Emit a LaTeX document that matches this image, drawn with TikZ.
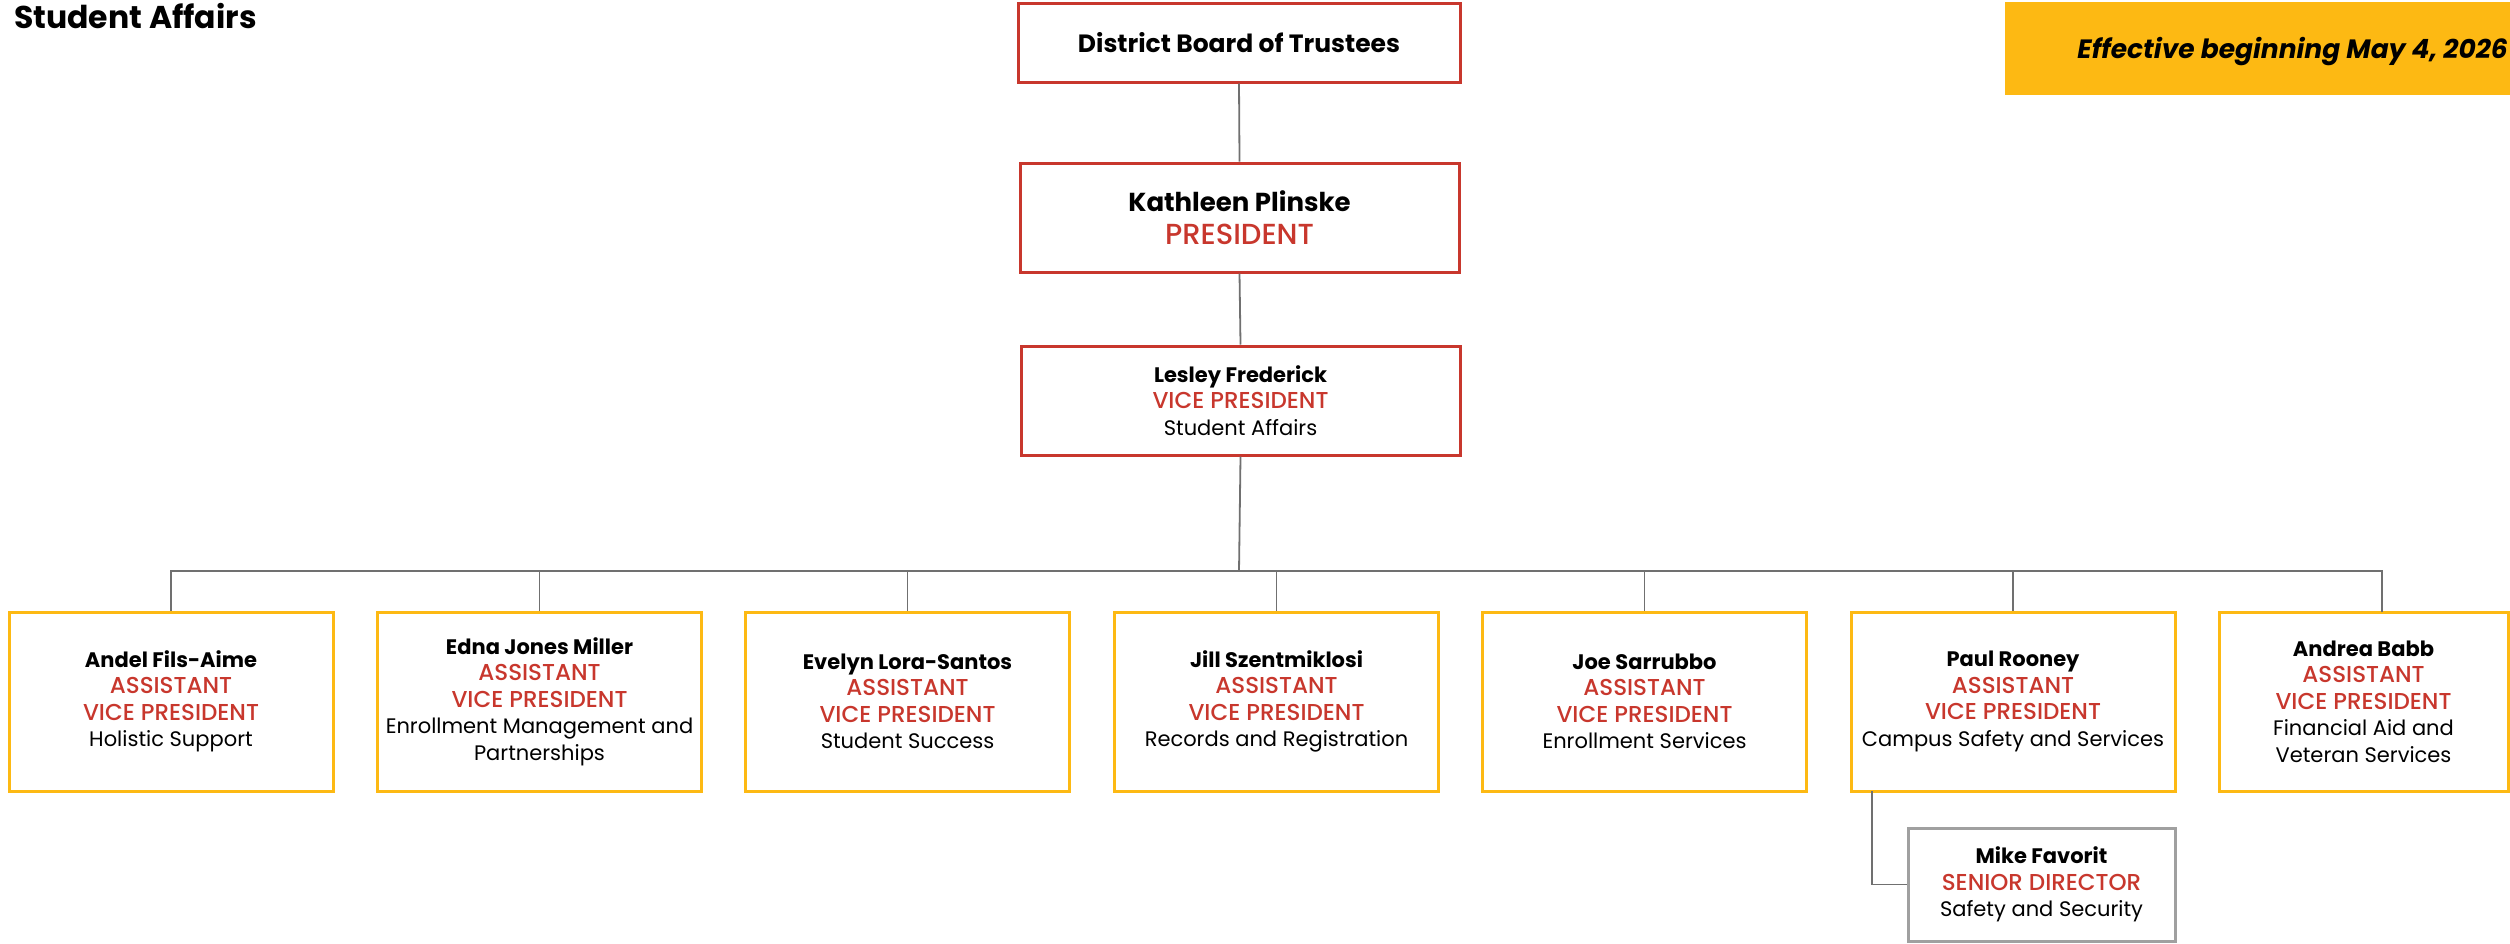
\documentclass[tikz,border=0pt]{standalone}
\usepackage{fontspec}
\setmainfont{Poppins}
\newfontfamily\medfont{Poppins Medium}
\definecolor{bred}{HTML}{C8372D}
\definecolor{byel}{HTML}{FDB913}
\definecolor{lgray}{HTML}{707070}
\definecolor{mgray}{HTML}{A0A0A0}
\tikzset{
  box/.style={draw, line width=3pt, align=center, inner sep=0pt, fill=white,
    font=\fontsize{21}{26.5}\selectfont},
  redbox/.style={box, draw=bred},
  yelbox/.style={box, draw=byel, minimum width=324pt, minimum height=179pt},
  graybox/.style={box, draw=mgray},
  conn/.style={draw=lgray, line width=1.8pt},
}
\newcommand{\rt}[1]{{\medfont\fontsize{23}{26.5}\selectfont\color{bred}#1}}
\begin{document}
\begin{tikzpicture}[x=1pt,y=-1pt]
\useasboundingbox (0,0) rectangle (2510,943);
% title
\node[anchor=base west, inner sep=0pt, font=\fontsize{31.5}{32}\selectfont\bfseries] (title) at (14,28) {Student Affairs};
% effective banner
\fill[byel] (2005,2) rectangle (2515,95);
\node[anchor=base east, inner sep=0pt, font=\fontsize{26.5}{27}\selectfont\bfseries\itshape] (eff) at (2508,58) {Effective beginning May 4, 2026};
% connectors
\coordinate (bus) at (1239,571);
\coordinate (b7top) at (2382,612);
\coordinate (b6foot) at (1872,791);
% top
\node[redbox, minimum width=442pt, minimum height=79pt, font=\fontsize{25}{30}\selectfont\bfseries] (board) at (1239,42.5) {District Board of Trustees};
\node[redbox, minimum width=439pt, minimum height=109pt, font=\fontsize{26}{33}\selectfont] (kp) at (1239.5,217.5) {\textbf{Kathleen Plinske}\\{\medfont\fontsize{29}{33}\selectfont\color{bred}PRESIDENT}};
\node[redbox, minimum width=439pt, minimum height=109pt] (lf) at (1240.5,400.5) {\textbf{Lesley Frederick}\\\rt{VICE PRESIDENT}\\Student Affairs};
% bottom row
\node[yelbox] (b1) at (171,701.5) {\textbf{Andel Fils-Aime}\\\rt{ASSISTANT}\\\rt{VICE PRESIDENT}\\Holistic Support};
\node[yelbox] (b2) at (539.5,701.5) {\textbf{Edna Jones Miller}\\\rt{ASSISTANT}\\\rt{VICE PRESIDENT}\\Enrollment Management and\\Partnerships};
\node[yelbox] (b3) at (907.5,701.5) {\textbf{Evelyn Lora-Santos}\\\rt{ASSISTANT}\\\rt{VICE PRESIDENT}\\Student Success};
\node[yelbox] (b4) at (1276.5,701.5) {\textbf{Jill Szentmiklosi}\\\rt{ASSISTANT}\\\rt{VICE PRESIDENT}\\Records and Registration};
\node[yelbox] (b5) at (1644.5,701.5) {\textbf{Joe Sarrubbo}\\\rt{ASSISTANT}\\\rt{VICE PRESIDENT}\\Enrollment Services};
\node[yelbox] (b6) at (2013,701.5) {\textbf{Paul Rooney}\\\rt{ASSISTANT}\\\rt{VICE PRESIDENT}\\Campus Safety and Services};
\node[yelbox, minimum width=289pt] (b7) at (2363.5,701.5) {\textbf{Andrea Babb}\\\rt{ASSISTANT}\\\rt{VICE PRESIDENT}\\Financial Aid and\\Veteran Services};
\node[graybox, minimum width=267pt, minimum height=113pt] (mf) at (2041.5,884.5) {\textbf{Mike Favorit}\\\rt{SENIOR DIRECTOR}\\Safety and Security};
\draw[conn] (board.south) -- (kp.north);
\draw[conn] (kp.south) -- (lf.north);
\draw[conn] (lf.south) -- (bus);
\draw[conn] (b1.north) |- (bus);
\draw[conn] (b2.north) |- (bus);
\draw[conn] (b3.north) |- (bus);
\draw[conn] (b4.north) |- (bus);
\draw[conn] (b5.north) |- (bus);
\draw[conn] (b6.north) |- (bus);
\draw[conn] (b7top) |- (bus);
\draw[conn] (b6foot) |- (mf.west);
\end{tikzpicture}
\end{document}
